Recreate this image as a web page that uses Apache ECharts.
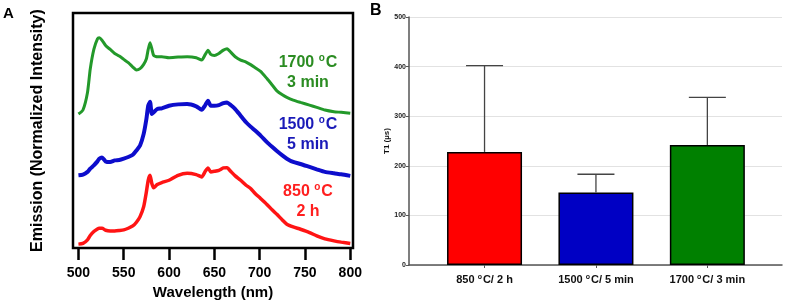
<!DOCTYPE html>
<html>
<head>
<meta charset="utf-8">
<script src="https://cdn.jsdelivr.net/npm/echarts@6/dist/echarts.min.js"></script>
<style>
  html, body { margin: 0; padding: 0; background: #fff; }
  #chart { width: 785px; height: 305px; }
</style>
</head>
<body>
<div id="chart"></div>
<script>
// panel A: emission spectra (offset curves, arbitrary units)
const wavelength = [500,505,510,513,517,521,523,526,530,535,540,545,550,555,560,564,568,572,575,577,579,581,583,587,592,600,610,620,630,636,640,643,646,650,655,660,664,668,673,679,685,690,695,701,708,714,719,725,730,737,745,755,763,772,782,790,800];
const emission1700 = [135,139,156.7,180,200,210.7,211.7,209.3,204,200,196,193.3,190,186.7,182.3,179.3,180.7,185,190.7,200,206.7,200.7,194,192.7,192.7,191.7,192.3,192.7,191.7,189.3,195,199.3,195,194,196,199.3,200.7,197.3,192.7,189.3,187.3,184.7,181.7,178,170.7,164,158.3,154.3,151.7,149,146.7,144,141.7,139,137.3,136.7,135.7];
const emission1500 = [73.3,74,76.7,80,83.3,87.3,90,91.3,87.3,86.7,88.3,88.7,90,91.7,94,98.3,103.3,115,130,143.3,147.3,135,136.7,140,140.7,143.3,144.7,145,142.7,139.3,144,148.3,143.3,143.3,144,146,146.7,144,140,133.3,126.7,122.3,118.3,113.3,106.7,101.7,97.7,93.3,90,86.7,84.7,81.7,79.3,76.7,75.3,74.3,72.7];
const emission850 = [4,4.7,8.3,12.7,16.7,19.3,20,20,18,17.3,17.3,17.7,18.3,20,22.3,26,31.7,41.7,56.7,68.3,73.3,65,60.7,64,66,68.3,73.3,75.3,74,71.7,77.3,80.7,76.7,77.3,78.3,80.7,81,77.3,72.7,68.3,63.3,60,55,50,44,38.3,34,28.3,24,21.3,19,15.7,12.3,9.3,7.3,6,4.7];
const wavelengthTicks = [500,550,600,650,700,750,800];

// panel B: T1 lifetimes with upper error
const conditions = ['850 ºC/ 2 h', '1500 ºC/ 5 min', '1700 ºC/ 3 min'];
const t1Mean = [228, 146, 242];
const t1ErrTop = [402, 183, 338];

const FONT = '"Liberation Sans", Arial, sans-serif';
const barColors = ['#ff0000', '#0000c4', '#008000'];

// "1700 ºC" -> rich text with a raised small o
const degreeRich = (s, cls) => s.replace(/º/g, '{' + cls + 's|o}').split(/(\{[^}]*\})/).map(p =>
  p.startsWith('{') ? p : (p ? '{' + cls + '|' + p + '}' : '')).join('');

const chart = echarts.init(document.getElementById('chart'));

const specLabels = [
  { text: '1700 ºC\n3 min', y: 53, color: '#2b8c22' },
  { text: '1500 ºC\n5 min', y: 115, color: '#1a1ab8' },
  { text: '850 ºC\n2 h', y: 182, color: '#ff1f1f' }
];

const option = {
  animation: false,
  backgroundColor: '#fff',
  textStyle: { fontFamily: FONT },
  grid: [
    { left: 73, top: 13, width: 280, height: 237, show: true, borderColor: '#000', borderWidth: 2.5, backgroundColor: 'transparent' },
    { left: 409, top: 17, width: 373, height: 248 }
  ],
  xAxis: [
    {
      gridIndex: 0, type: 'value', min: 494, max: 803,
      axisLine: { show: false },
      axisTick: { show: true, customValues: wavelengthTicks, length: 12, lineStyle: { color: '#000', width: 2.5 } },
      axisLabel: { customValues: wavelengthTicks, fontSize: 14, fontWeight: 'bold', color: '#000', margin: 18, fontFamily: FONT },
      splitLine: { show: false },
      name: 'Wavelength (nm)', nameLocation: 'middle', nameGap: 33,
      nameTextStyle: { fontSize: 15, fontWeight: 'bold', color: '#000', fontFamily: FONT }
    },
    {
      gridIndex: 1, type: 'value', min: 0.322, max: 3.67,
      axisLine: { show: true, lineStyle: { color: '#555', width: 1.5 } },
      axisTick: { show: true, customValues: [1, 2, 3], length: 3, lineStyle: { color: '#555' } },
      axisLabel: {
        customValues: [1, 2, 3], margin: 9,
        formatter: v => degreeRich(conditions[Math.round(v) - 1], 'b'),
        rich: {
          b: { fontSize: 11, fontWeight: 'bold', color: '#111', fontFamily: FONT },
          bs: { fontSize: 7, fontWeight: 'bold', color: '#111', fontFamily: FONT, verticalAlign: 'top', padding: [0, 1, 4, 0] }
        }
      },
      splitLine: { show: false }
    }
  ],
  yAxis: [
    {
      gridIndex: 0, type: 'value', min: 0, max: 236.7,
      axisLine: { show: false }, axisTick: { show: false }, axisLabel: { show: false }, splitLine: { show: false },
      name: 'Emission (Normalized Intensity)', nameLocation: 'middle', nameGap: 27,
      nameTextStyle: { fontSize: 16, fontWeight: 'bold', color: '#000', fontFamily: FONT }
    },
    {
      gridIndex: 1, type: 'value', min: 0, max: 500, interval: 100,
      axisLine: { show: true, lineStyle: { color: '#555', width: 1.5 } },
      axisTick: { show: true, length: 3, lineStyle: { color: '#555' } },
      axisLabel: { fontSize: 7, fontWeight: 'bold', color: '#222', margin: 3, fontFamily: FONT },
      splitLine: { show: true, lineStyle: { color: '#e2e2e2', width: 1 } },
      name: 'T1 (µs)', nameLocation: 'middle', nameGap: 17,
      nameTextStyle: { fontSize: 8, fontWeight: 'bold', color: '#111', fontFamily: FONT }
    }
  ],
  series: [
    { type: 'line', xAxisIndex: 0, yAxisIndex: 0, showSymbol: false, smooth: 0.2,
      data: wavelength.map((w, i) => [w, emission1700[i]]), lineStyle: { color: '#23992a', width: 3 } },
    { type: 'line', xAxisIndex: 0, yAxisIndex: 0, showSymbol: false, smooth: 0.2,
      data: wavelength.map((w, i) => [w, emission1500[i]]), lineStyle: { color: '#0d0dcc', width: 4 } },
    { type: 'line', xAxisIndex: 0, yAxisIndex: 0, showSymbol: false, smooth: 0.2,
      data: wavelength.map((w, i) => [w, emission850[i]]), lineStyle: { color: '#ff1414', width: 3.5 } },
    {
      type: 'bar', xAxisIndex: 1, yAxisIndex: 1, barWidth: 75,
      data: t1Mean.map((v, i) => ({ value: [i + 1, v], itemStyle: { color: barColors[i] } })),
      itemStyle: { borderColor: '#000', borderWidth: 1.5 }
    },
    {
      type: 'custom', xAxisIndex: 1, yAxisIndex: 1, z: 5,
      data: t1Mean.map((v, i) => [i + 1, v, t1ErrTop[i]]),
      renderItem: (params, api) => {
        const base = api.coord([api.value(0), api.value(1)]);
        const top = api.coord([api.value(0), api.value(2)]);
        const half = 18.5;
        const style = { stroke: '#444', lineWidth: 1.3 };
        return {
          type: 'group',
          children: [
            { type: 'line', shape: { x1: base[0], y1: base[1], x2: top[0], y2: top[1] }, style },
            { type: 'line', shape: { x1: top[0] - half, y1: top[1], x2: top[0] + half, y2: top[1] }, style }
          ]
        };
      }
    }
  ],
  graphic: [
    { type: 'text', left: 3, top: 6, style: { text: 'A', font: 'bold 15px ' + FONT, fill: '#000' } },
    { type: 'text', left: 370, top: 3, style: { text: 'B', font: 'bold 16px ' + FONT, fill: '#000' } }
  ].concat(specLabels.map(l => ({
    type: 'text', x: 308, y: l.y,
    style: {
      text: l.text.split('\n').map(line => degreeRich(line, 'a')).join('\n'),
      align: 'center', fill: l.color, lineHeight: 20,
      rich: {
        a: { fontSize: 16, fontWeight: 'bold', fill: l.color, fontFamily: FONT, lineHeight: 20 },
        as: { fontSize: 10, fontWeight: 'bold', fill: l.color, fontFamily: FONT, verticalAlign: 'top', padding: [0, 1, 6, 0], lineHeight: 20 }
      }
    }
  })))
};

chart.setOption(option);
</script>
</body>
</html>
